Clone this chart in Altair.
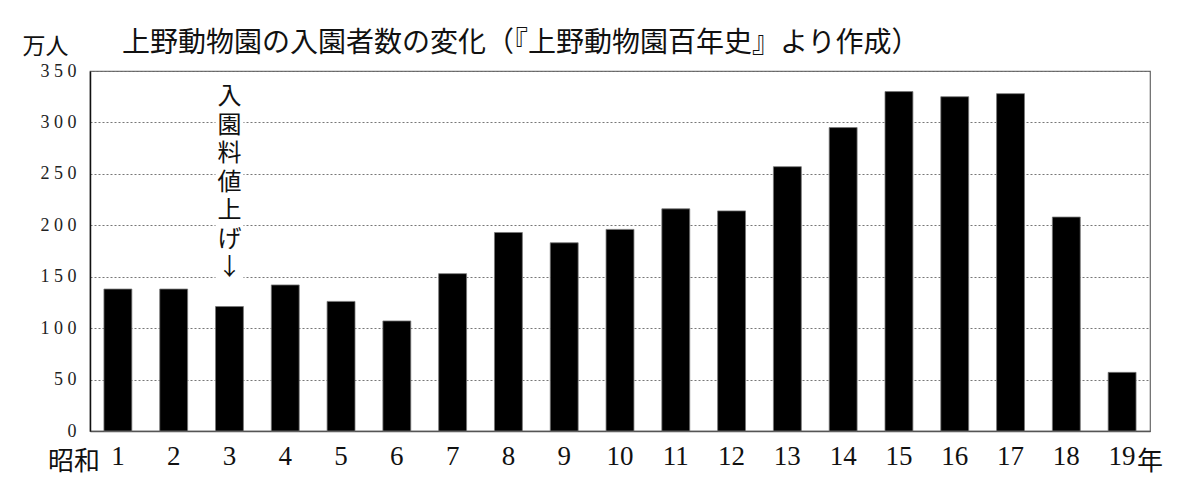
import altair as alt
import pandas as pd

# ---- data ----
years = [str(i) for i in range(1, 20)]
visitors = [138, 138, 121, 142, 126, 107, 153, 193, 183, 196,
            216, 214, 257, 295, 330, 325, 328, 208, 57]
y_ticks = [0, 50, 100, 150, 200, 250, 300, 350]

title_text = "上野動物園の入園者数の変化（『上野動物園百年史』より作成）"
unit_text = "万人"
era_text = ["昭和"]
year_suffix = ["年"]
note_text = ["入\n園\n料\n値\n上\nげ\n↓"]
note_year = "3"

df = pd.DataFrame({"year": years, "visitors": visitors})

SERIF = "'Liberation Serif', 'Noto Sans CJK JP'"
CJK = "'Noto Sans CJK JP'"

xenc = alt.X(
    "year:N",
    sort=years,
    scale=alt.Scale(paddingInner=0.5, paddingOuter=0.25),
    axis=alt.Axis(
        title=None,
        labelAngle=0,
        labelFont=SERIF,
        labelFontSize=27,
        labelColor="#111",
        labelPadding=12,
        ticks=False,
        domainColor="#555",
        domainWidth=1.5,
        grid=False,
    ),
)

yenc = alt.Y(
    "visitors:Q",
    scale=alt.Scale(domain=[0, 350], nice=False),
    axis=alt.Axis(
        values=y_ticks,
        labelExpr="join(split(datum.label, ''), ' ')",
        labelFont=SERIF,
        labelFontSize=18,
        labelColor="#222",
        labelPadding=14,
        ticks=False,
        domainColor="#111",
        domainWidth=1.5,
        grid=True,
        gridDash=[2, 2],
        gridColor="#777",
        gridWidth=1,
        title=unit_text,
        titleAngle=0,
        titleFont=SERIF,
        titleFontSize=23,
        titleFontWeight="normal",
        titleColor="#111",
        titleAlign="left",
        titleBaseline="bottom",
        titleX=-68,
        titleY=-13,
    ),
)

bars = alt.Chart(df).mark_bar(color="black", stroke="#777", strokeWidth=0.8).encode(
    x=xenc, y=yenc
)

# white band behind the annotation (breaks the gridlines like the original)
note_df = pd.DataFrame({"note": note_text})
mask = alt.Chart(note_df).mark_bar(color="white").encode(
    x=alt.datum(note_year),
    y=alt.datum(146),
    y2=alt.datum(315),
)

note = alt.Chart(note_df).mark_text(
    font=CJK,
    fontSize=24,
    lineHeight=28.5,
    lineBreak="\n",
    baseline="top",
    align="center",
    dy=14,
    color="#111",
).encode(
    x=alt.datum(note_year),
    y=alt.datum(350),
    text="note:N",
)

era = alt.Chart(pd.DataFrame({"t": era_text})).mark_text(
    font=CJK, fontSize=26, baseline="middle", align="center", dx=-44, dy=31, color="#111"
).encode(x=alt.datum(years[0]), y=alt.datum(0), text="t:N")

suffix = alt.Chart(pd.DataFrame({"t": year_suffix})).mark_text(
    font=CJK, fontSize=26, baseline="middle", align="center", dx=28, dy=31, color="#111"
).encode(x=alt.datum(years[-1]), y=alt.datum(0), text="t:N")

chart = alt.layer(bars, mask, note, era, suffix).properties(
    width=1060,
    height=360,
    autosize=alt.AutoSizeParams(type="none"),
    padding={"left": 82, "top": 63, "right": 40, "bottom": 50},
    title=alt.TitleParams(
        text=title_text,
        anchor="start",
        frame="group",
        font=CJK,
        fontSize=28,
        fontWeight="normal",
        color="#111",
        baseline="bottom",
        dx=32,
        offset=-51,
    ),
).configure_view(stroke="#666", strokeWidth=1.2)

chart.save("out.html", embed_options={"renderer": "svg", "actions": False})
